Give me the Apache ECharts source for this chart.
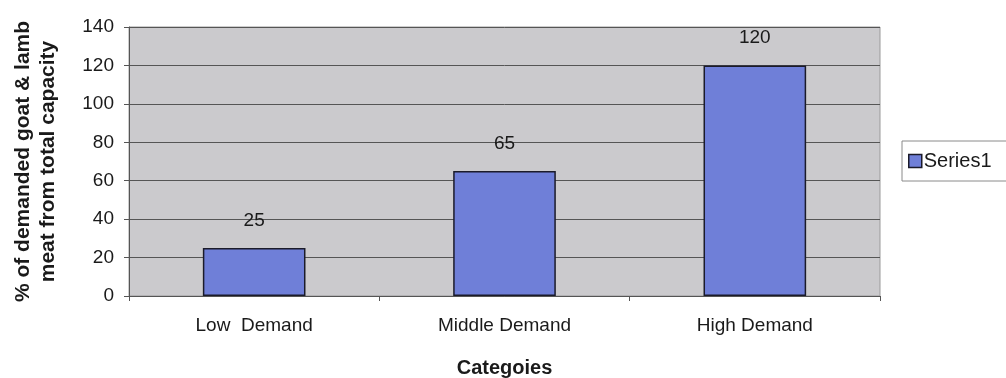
<!DOCTYPE html>
<html>
<head>
<meta charset="utf-8">
<script src="https://cdn.jsdelivr.net/npm/echarts@6/dist/echarts.min.js"></script>
<style>
  html, body { margin: 0; padding: 0; background: #fff; }
  #chart-container { width: 1006px; height: 378px; }
</style>
</head>
<body>
<div id="chart-container"></div>
<script>
var categories = ["Low  Demand", "Middle Demand", "High Demand"];
var series1 = [25, 65, 120];
var yTicks = [0, 140, 20]; // min, max, interval

var dom = document.getElementById("chart-container");
var myChart = echarts.init(dom, null, { renderer: "canvas" });

var font = "'Liberation Sans', Arial, sans-serif";

var option = {
  animation: false,
  textStyle: { fontFamily: font },
  grid: {
    left: 129,
    right: 126,
    top: 27,
    bottom: 82,
    outerBoundsMode: "none",
    show: true,
    backgroundColor: "#cbcacd",
    borderColor: "#9a9a9a",
    borderWidth: 1,
  },
  legend: {
    data: ["Series1"],
    left: 902,
    top: 141,
    orient: "vertical",
    padding: [10, 40, 10, 6],
    borderColor: "#8a8a8a",
    borderWidth: 1,
    itemWidth: 13,
    itemHeight: 13,
    itemGap: 0,
    icon: "rect",
    itemStyle: { borderColor: "#1b1b2a", borderWidth: 1.5 },
    textStyle: { fontSize: 20, color: "#1a1a1a", fontFamily: font, padding: [0, 0, 0, -3] },
  },
  xAxis: {
    type: "category",
    data: categories,
    name: "Categoies",
    nameLocation: "middle",
    nameGap: 62,
    nameTextStyle: { fontSize: 20, fontWeight: "bold", color: "#1a1a1a" },
    axisLine: { lineStyle: { color: "#555" } },
    axisTick: { show: true, length: 5, lineStyle: { color: "#555" } },
    axisLabel: { fontSize: 19, color: "#1a1a1a", margin: 20 },
  },
  yAxis: {
    type: "value",
    min: yTicks[0],
    max: yTicks[1],
    interval: yTicks[2],
    name: "% of demanded goat & lamb\nmeat from total capacity",
    nameLocation: "middle",
    nameGap: 68,
    nameTextStyle: { fontSize: 21, fontWeight: "bold", color: "#1a1a1a", lineHeight: 25 },
    axisLine: { show: true, lineStyle: { color: "#555" } },
    axisTick: { show: true, length: 5, lineStyle: { color: "#555" } },
    axisLabel: { fontSize: 19, color: "#1a1a1a", margin: 15 },
    splitLine: { lineStyle: { color: "#555", width: 1 } },
  },
  series: [
    {
      name: "Series1",
      type: "bar",
      data: series1,
      barWidth: "41%",
      itemStyle: { color: "#6f7fd8", borderColor: "#1b1b2a", borderWidth: 1.5 },
      label: {
        show: true,
        position: "top",
        distance: 18,
        fontSize: 19,
        color: "#1a1a1a",
      },
    },
  ],
};

myChart.setOption(option);
window.addEventListener("resize", myChart.resize);
</script>
</body>
</html>
